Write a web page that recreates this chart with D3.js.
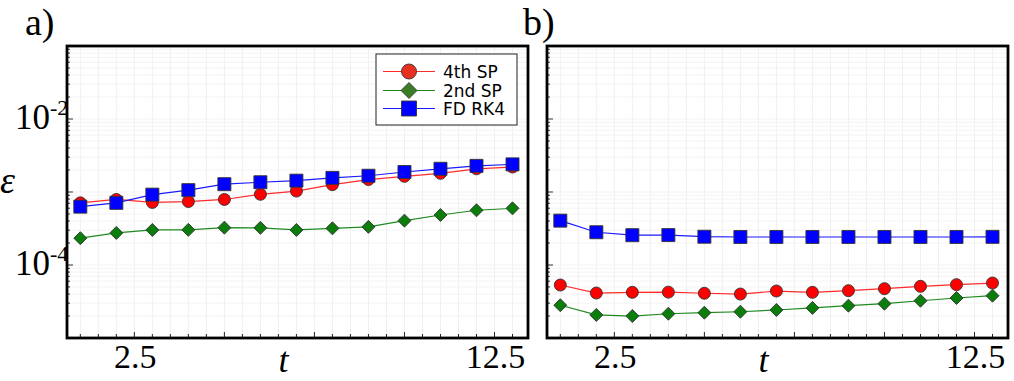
<!DOCTYPE html>
<html>
<head>
<meta charset="utf-8">
<script src="https://cdn.jsdelivr.net/npm/d3@7"></script>
<style>
  html, body { margin: 0; padding: 0; background: #fff; }
  svg { display: block; }
</style>
</head>
<body>
<div id="chart"></div>
<script>
// --- Data ---
const tValues = [1, 2, 3, 4, 5, 6, 7, 8, 9, 10, 11, 12, 13];

// panel a)
const a4thSP = [7.1e-4, 7.9e-4, 7.2e-4, 7.4e-4, 7.9e-4, 9.3e-4, 1.03e-3, 1.26e-3, 1.48e-3, 1.64e-3, 1.80e-3, 2.08e-3, 2.20e-3];
const a2ndSP = [2.33e-4, 2.75e-4, 3.02e-4, 3.03e-4, 3.25e-4, 3.23e-4, 3.02e-4, 3.18e-4, 3.33e-4, 4.05e-4, 4.84e-4, 5.62e-4, 5.97e-4];
const aFDRK4 = [6.3e-4, 7.1e-4, 9.2e-4, 1.06e-3, 1.28e-3, 1.36e-3, 1.43e-3, 1.56e-3, 1.67e-3, 1.88e-3, 2.08e-3, 2.28e-3, 2.39e-3];

// panel b)
const b4thSP = [5.32e-5, 4.13e-5, 4.22e-5, 4.25e-5, 4.1e-5, 4.0e-5, 4.4e-5, 4.22e-5, 4.45e-5, 4.74e-5, 5.1e-5, 5.38e-5, 5.66e-5];
const b2ndSP = [2.81e-5, 2.07e-5, 2.0e-5, 2.15e-5, 2.22e-5, 2.29e-5, 2.42e-5, 2.58e-5, 2.77e-5, 2.95e-5, 3.24e-5, 3.53e-5, 3.8e-5];
const bFDRK4 = [4.05e-4, 2.81e-4, 2.56e-4, 2.57e-4, 2.44e-4, 2.42e-4, 2.42e-4, 2.42e-4, 2.42e-4, 2.42e-4, 2.42e-4, 2.42e-4, 2.43e-4];

const seriesNames = ['4th SP', '2nd SP', 'FD RK4'];
const xTickValues = [2.5, 12.5];
const xTickLabels = ['2.5', '12.5'];
const yTickValues = [1e-2, 1e-4];
const yTickExponents = ['-2', '-4'];

// --- Styles ---
const styles = {
    '4th SP': { line: '#ff2a2a', fill: '#ff0000', shape: 'circle' },
    '2nd SP': { line: '#1f8a1f', fill: '#0a7d0a', shape: 'diamond' },
    'FD RK4': { line: '#1a1aff', fill: '#0000ff', shape: 'square' }
};

const W = 1014, H = 381;
const plotTop = 46, plotBottom = 338;
const panels = [
    { label: 'a)', left: 67, right: 528, series: [a4thSP, a2ndSP, aFDRK4], legend: true, yLabels: true },
    { label: 'b)', left: 547, right: 1008, series: [b4thSP, b2ndSP, bFDRK4], legend: false, yLabels: false }
];

const svg = d3.select('#chart').append('svg')
    .attr('width', W)
    .attr('height', H);

const serif = '"Liberation Serif", "Times New Roman", serif';

function markerPath(shape, size) {
    if (shape === 'circle') return d3.symbol(d3.symbolCircle, Math.PI * size * size / 4)();
    if (shape === 'square') return d3.symbol(d3.symbolSquare, size * size)();
    // diamond: size = full diagonal
    const h = size / 2;
    return `M0,${-h}L${h},0L0,${h}L${-h},0Z`;
}

const markerSize = { circle: 12, square: 13, diamond: 13 };

// y scale is the same for both panels
const y = d3.scaleLog().domain([1e-5, 1e-1]).range([plotBottom, plotTop]);
const yMinor = [];
for (let e = -5; e < -1; e++) {
    for (let m = 1; m < 10; m++) yMinor.push(m * Math.pow(10, e));
}
yMinor.push(1e-1);

panels.forEach(p => {
    const x = d3.scaleLinear().domain([0.63, 13.43]).range([p.left, p.right]);
    const g = svg.append('g');

    // grid (very faint)
    const xGrid = d3.range(1, 13.01, 0.5);
    g.append('g').selectAll('line').data(xGrid).join('line')
        .attr('x1', d => x(d)).attr('x2', d => x(d))
        .attr('y1', plotTop).attr('y2', plotBottom)
        .attr('stroke', '#f0f0f0').attr('stroke-width', 1);
    g.append('g').selectAll('line').data(yMinor).join('line')
        .attr('x1', p.left).attr('x2', p.right)
        .attr('y1', d => y(d)).attr('y2', d => y(d))
        .attr('stroke', '#f3f3f3').attr('stroke-width', 1);

    // ticks (inside)
    g.append('g').selectAll('line').data(xGrid).join('line')
        .attr('x1', d => x(d)).attr('x2', d => x(d))
        .attr('y1', plotBottom).attr('y2', d => plotBottom - (d % 2.5 === 0 ? 6 : 4))
        .attr('stroke', '#222').attr('stroke-width', 1);
    g.append('g').selectAll('line').data(yMinor).join('line')
        .attr('x1', p.left)
        .attr('x2', d => p.left + (Math.abs(Math.log10(d) - Math.round(Math.log10(d))) < 1e-9 ? 6 : 3))
        .attr('y1', d => y(d)).attr('y2', d => y(d))
        .attr('stroke', '#333').attr('stroke-width', 1);

    // series: lines then markers
    p.series.forEach((vals, i) => {
        const name = seriesNames[i];
        const st = styles[name];
        const pts = tValues.map((t, k) => [t, vals[k]]);
        g.append('path')
            .datum(pts)
            .attr('fill', 'none')
            .attr('stroke', st.line)
            .attr('stroke-width', 1.2)
            .attr('d', d3.line().x(d => x(d[0])).y(d => y(d[1])));
        g.append('g').selectAll('path').data(pts).join('path')
            .attr('transform', d => `translate(${x(d[0])},${y(d[1])})`)
            .attr('d', markerPath(st.shape, markerSize[st.shape]))
            .attr('fill', st.fill)
            .attr('stroke', '#333')
            .attr('stroke-width', 0.9);
    });

    // frame
    g.append('rect')
        .attr('x', p.left).attr('y', plotTop)
        .attr('width', p.right - p.left).attr('height', plotBottom - plotTop)
        .attr('fill', 'none').attr('stroke', '#000').attr('stroke-width', 2.8);

    // x tick labels
    g.append('g').selectAll('text').data(xTickValues).join('text')
        .attr('x', (d, i) => x(d) + 1)
        .attr('y', 368)
        .attr('text-anchor', 'middle')
        .attr('font-family', serif)
        .attr('font-size', 34)
        .text((d, i) => xTickLabels[i]);

    // x axis label
    g.append('text')
        .attr('x', (p.left + p.right) / 2 - 14)
        .attr('y', 372)
        .attr('text-anchor', 'middle')
        .attr('font-family', serif)
        .attr('font-style', 'italic')
        .attr('font-size', 36)
        .text('t');

    // panel label
    g.append('text')
        .attr('x', p.left - 42 + (p.label === 'b)' ? 18 : 0))
        .attr('y', 35)
        .attr('font-family', serif)
        .attr('font-size', 38)
        .text(p.label);

    if (p.yLabels) {
        const yl = g.append('g').selectAll('text').data(yTickValues).join('text')
            .attr('x', 15)
            .attr('y', d => y(d) + 10)
            .attr('font-family', serif)
            .attr('font-size', 35);
        yl.append('tspan').text('10');
        yl.append('tspan')
            .attr('dy', -14)
            .attr('font-size', 22)
            .text((d, i) => yTickExponents[i]);

        g.append('text')
            .attr('x', 0)
            .attr('y', 193)
            .attr('font-family', serif)
            .attr('font-style', 'italic')
            .attr('font-size', 38)
            .text('ε');
    }

    if (p.legend) {
        const lx = 376, ly = 54, lw = 141, lh = 71;
        const lg = g.append('g');
        lg.append('rect')
            .attr('x', lx).attr('y', ly).attr('width', lw).attr('height', lh)
            .attr('fill', '#fff').attr('stroke', '#222').attr('stroke-width', 1);
        const rowY = [71.5, 90.5, 108.5];
        seriesNames.forEach((name, i) => {
            const st = styles[name];
            lg.append('line')
                .attr('x1', 383).attr('x2', 435)
                .attr('y1', rowY[i]).attr('y2', rowY[i])
                .attr('stroke', st.line).attr('stroke-width', 1.2);
            lg.append('path')
                .attr('transform', `translate(409,${rowY[i]})`)
                .attr('d', markerPath(st.shape, st.shape === 'diamond' ? 16 : 15))
                .attr('fill', name === '4th SP' ? '#e8301f' : name === '2nd SP' ? '#3b7d24' : '#0000ff')
                .attr('stroke', '#333').attr('stroke-width', 0.9);
            lg.append('text')
                .attr('x', 443)
                .attr('y', rowY[i] + 6)
                .attr('font-family', '"DejaVu Sans", sans-serif')
                .attr('font-size', 17)
                .text(name);
        });
    }
});
</script>
</body>
</html>
